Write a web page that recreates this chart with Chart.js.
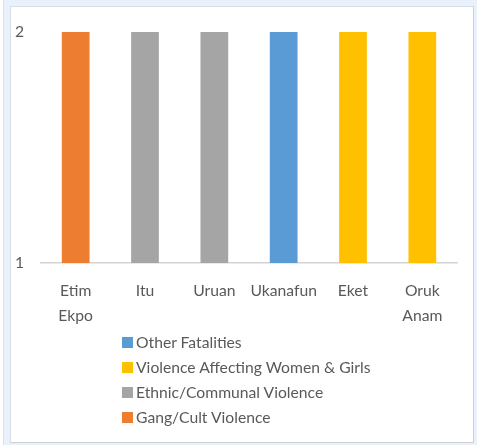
<!DOCTYPE html>
<html>
<head>
<meta charset="utf-8">
<script src="https://cdn.jsdelivr.net/npm/chart.js@4"></script>
<style>
  html, body { margin: 0; padding: 0; }
  body { width: 477px; height: 445px; background: #e9f2fc; position: relative; overflow: hidden; font-family: Lato, "Liberation Sans", sans-serif; }
  #strip { position: absolute; left: 0; top: 0; width: 3px; height: 445px; background: #ffffff; border-right: 1px solid #d8e0ea; }
  #frame { position: absolute; left: 10px; top: 6px; width: 462px; height: 435px; background: #ffffff; border: 1px solid #d6dde6; border-right-color: #cfcfcf; border-bottom-color: #cfcfcf; }
  #c { position: absolute; left: 10px; top: 6px; }
  #legend { position: absolute; left: 122px; top: 330px; color: #595959; font-size: 15.7px; line-height: 25px; z-index: 2; }
  .row { display: flex; align-items: center; height: 25px; white-space: nowrap; }
  .box { width: 11px; height: 11px; margin-right: 3px; flex: none; }
</style>
</head>
<body>
<div id="strip"></div>
<div id="frame"></div>
<canvas id="c" width="463" height="330"></canvas>
<div id="legend"></div>
<script>
// ---- data ----
const categories = [["Etim", "Ekpo"], "Itu", "Uruan", "Ukanafun", "Eket", ["Oruk", "Anam"]];
const otherFatalities = [null, null, null, 2, null, null];
const violenceWomenGirls = [null, null, null, null, 2, 2];
const ethnicCommunal = [null, 2, 2, null, null, null];
const gangCult = [2, null, null, null, null, null];
const seriesNames = ["Other Fatalities", "Violence Affecting Women & Girls", "Ethnic/Communal Violence", "Gang/Cult Violence"];
const seriesColors = ["#5B9BD5", "#FFC000", "#A5A5A5", "#ED7D31"];
const yTicks = [1, 2];

const seriesValues = [otherFatalities, violenceWomenGirls, ethnicCommunal, gangCult];
const FONT = { family: 'Lato, "Liberation Sans", sans-serif', size: 15.7, lineHeight: 25 / 15.7 };
const TEXT = "#595959";

const datasets = seriesNames.map((name, i) => ({
  label: name,
  data: seriesValues[i],
  backgroundColor: seriesColors[i],
  borderWidth: 0,
  barPercentage: 0.4,
  categoryPercentage: 1.0
}));

new Chart(document.getElementById("c"), {
  type: "bar",
  data: { labels: categories, datasets: datasets },
  options: {
    responsive: false,
    animation: false,
    layout: { padding: { left: 0, right: 16, top: 26, bottom: 0 } },
    plugins: { legend: { display: false }, tooltip: { enabled: false } },
    scales: {
      x: {
        stacked: true,
        grid: { display: false, drawTicks: false },
        border: { display: true, color: "#d4d4d4", width: 1.5 },
        ticks: { color: TEXT, font: FONT, padding: 15, maxRotation: 0, autoSkip: false },
        afterFit: (s) => { s.height = 73; }
      },
      y: {
        stacked: true,
        min: yTicks[0],
        max: yTicks[yTicks.length - 1],
        grid: { display: false, drawTicks: false },
        border: { display: false },
        ticks: { color: TEXT, font: FONT, stepSize: 1, padding: 17 },
        afterFit: (s) => { s.width = 31; s.paddingTop = 0; s.paddingBottom = 0; }
      }
    }
  }
});

// HTML legend built from series arrays
const lg = document.getElementById("legend");
seriesNames.forEach((name, i) => {
  const row = document.createElement("div");
  row.className = "row";
  const box = document.createElement("span");
  box.className = "box";
  box.style.background = seriesColors[i];
  const t = document.createElement("span");
  t.textContent = name;
  row.appendChild(box);
  row.appendChild(t);
  lg.appendChild(row);
});
</script>
</body>
</html>
